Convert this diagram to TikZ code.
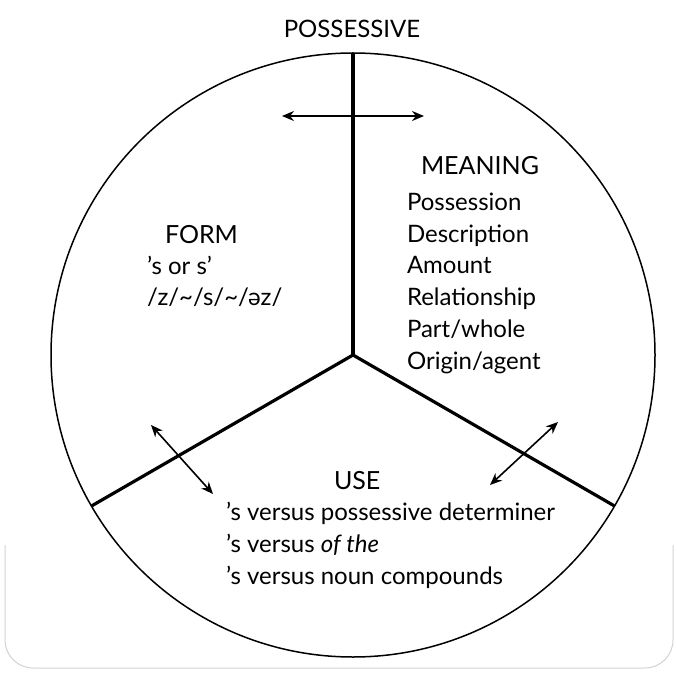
\documentclass[tikz,border=0pt]{standalone}
\usepackage{fontspec}
\setmainfont{Lato}
\usetikzlibrary{arrows.meta}

\begin{document}
\begin{tikzpicture}[x=1pt,y=1pt,>={Stealth[length=12pt,width=10pt]},
  every node/.style={inner sep=0pt,outer sep=0pt},
  head/.style={font=\fontsize{25}{30}\selectfont,anchor=base west},
  entry/.style={font=\fontsize{24}{31.7}\selectfont,anchor=base west,align=left},
  spoke/.style={line width=3.2pt},
  link/.style={<->,line width=1.6pt}]
\useasboundingbox (0,0) rectangle (677,673);
\draw[gray!35,line width=1pt,rounded corners=28pt] (5,128) -- (5,5) -- (673,5) -- (673,128);
\coordinate (c) at (353,318);
\draw[line width=1.5pt] (c) circle[radius=302];
\path (c) ++(90:302) coordinate (top);
\path (c) ++(210:302) coordinate (left);
\path (c) ++(330:302) coordinate (right);
\draw[spoke] (c) -- (top);
\draw[spoke] (c) -- (left);
\draw[spoke] (c) -- (right);
\node[font=\fontsize{24}{30}\selectfont,anchor=base] (poss) at (352,635) {POSSESSIVE};
\node[head] (form) at (165,429) {FORM};
% last line of each list sits on the given baseline
\node[entry] (formtxt) at (147,367) {’s or s’\\/z/\textasciitilde/s/\textasciitilde/əz/};
\node[head] (meaning) at (421,498) {MEANING};
\node[entry] (meaningtxt) at (407,304) {Possession\\Description\\Amount\\Relationship\\Part/whole\\Origin/agent};
\node[head] (use) at (334,184) {USE};
\node[entry] (usetxt) at (226,89) {’s versus possessive determiner\\’s versus \textit{of the}\\’s versus noun compounds};
\coordinate (ta) at (282,557);
\coordinate (tb) at (424,557);
\coordinate (la) at (151,248);
\coordinate (lb) at (213,179);
\coordinate (ra) at (490,188);
\coordinate (rb) at (558,251);
\draw[link] (ta) -- (tb);
\draw[link] (la) -- (lb);
\draw[link] (ra) -- (rb);
\end{tikzpicture}
\end{document}
